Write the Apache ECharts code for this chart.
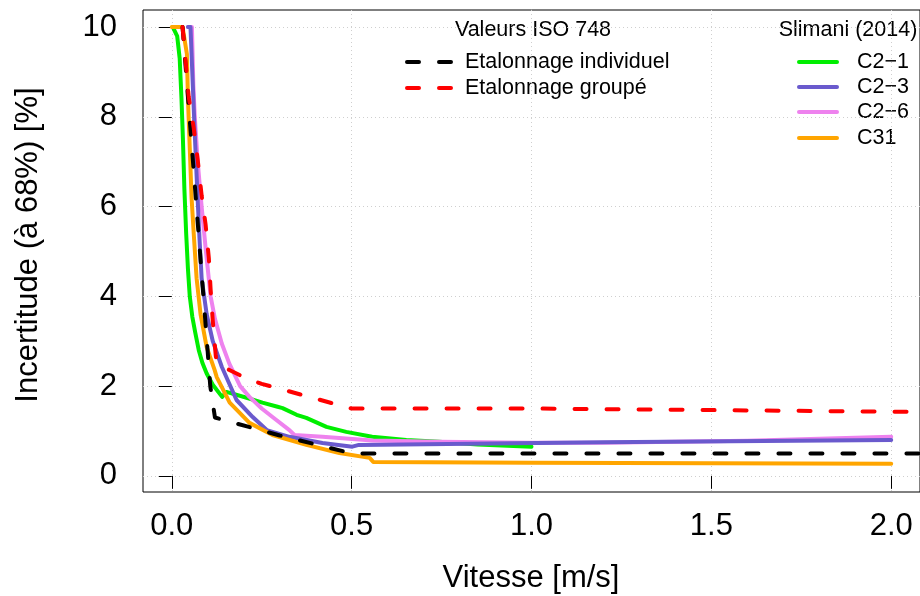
<!DOCTYPE html>
<html><head><meta charset="utf-8">
<script src="https://cdn.jsdelivr.net/npm/echarts@6/dist/echarts.min.js"></script>
<style>html,body{margin:0;padding:0;background:#fff}#c{width:920px;height:596px}</style>
</head><body><div id="c"></div>
<script>
// ---- data ----
const xTicks = [0, 0.5, 1, 1.5, 2];
const yTicks = [0, 2, 4, 6, 8, 10];
const isoIndividuel = [[0.03,10],[0.1,2.75],[0.107,2.0],[0.12,1.3],[0.3,0.9],[0.5,0.5],[2.2,0.5]];
const isoGroupe = [[0.03,10],[0.047,8.45],[0.061,7.75],[0.072,7.05],[0.083,6.25],[0.094,5.6],[0.103,4.85],[0.108,4.15],[0.114,3.45],[0.122,2.7],[0.125,2.5],[0.2,2.2],[0.25,2.05],[0.5,1.5],[1.0,1.5],[2.0,1.43],[2.2,1.42]];
const c21 = [[0.003,10],[0.015,9.8],[0.022,9.3],[0.027,8.4],[0.031,7.5],[0.035,6.4],[0.04,5.4],[0.045,4.6],[0.05,4.0],[0.057,3.55],[0.065,3.2],[0.075,2.8],[0.085,2.52],[0.097,2.28],[0.114,2.03],[0.14,1.76],[0.152,1.87],[0.208,1.74],[0.252,1.63],[0.294,1.54],[0.308,1.51],[0.347,1.36],[0.374,1.29],[0.43,1.09],[0.485,0.98],[0.557,0.87],[0.652,0.80],[0.743,0.76],[0.85,0.7],[1.0,0.65]];
const c23 = [[0.045,10],[0.052,10],[0.058,8.8],[0.064,7.6],[0.072,6.15],[0.077,5.3],[0.083,4.4],[0.097,3.6],[0.114,3.0],[0.139,2.43],[0.155,2.14],[0.18,1.69],[0.225,1.31],[0.264,1.02],[0.327,0.87],[0.419,0.73],[0.502,0.65],[0.52,0.69],[1.2,0.75],[2.0,0.80]];
const c26 = [[0.045,10],[0.056,10],[0.06,8.7],[0.064,8.0],[0.072,7.0],[0.083,6.0],[0.095,5.0],[0.108,4.0],[0.12,3.5],[0.139,2.95],[0.16,2.5],[0.19,2.0],[0.216,1.76],[0.25,1.5],[0.28,1.31],[0.327,1.02],[0.341,0.91],[0.419,0.87],[0.558,0.79],[0.743,0.76],[1.0,0.74],[1.2,0.74],[1.6,0.78],[2.0,0.87]];
const c31 = [[0,10],[0.03,10],[0.042,9.4],[0.045,8.4],[0.05,7.3],[0.055,6.2],[0.061,5.4],[0.069,4.4],[0.08,3.6],[0.097,2.87],[0.119,2.36],[0.125,2.2],[0.161,1.63],[0.216,1.18],[0.28,0.91],[0.374,0.69],[0.466,0.51],[0.55,0.4],[0.56,0.31],[1.0,0.29],[2.0,0.27]];
const isoNames = ['Etalonnage individuel', 'Etalonnage groupé'];
const slimaniNames = ['C2\u22121', 'C2\u22123', 'C2\u22126', 'C31'];

// ---- style ----
const FONT = '"Liberation Sans", Arial, Helvetica, sans-serif';
const COL = {black:'#000000', red:'#ff0000', green:'#00ee00', purple:'#6a5acd', pink:'#ee82ee', orange:'#ffa500'};
const DASH = [12, 20];

const chart = echarts.init(document.getElementById('c'), null, {renderer:'canvas'});

function solid(name, data, color) {
  return {name, type:'line', data, showSymbol:false, symbol:'none', animation:false,
    lineStyle:{color, width:4, cap:'round', join:'round'}, clip:true};
}
function dashed(name, data, color) {
  return {name, type:'line', data, showSymbol:false, symbol:'none', animation:false,
    lineStyle:{color, width:4, type:DASH, cap:'round', join:'round'}, clip:true};
}

const gridLine = {show:true, lineStyle:{color:'#cfcfcf', width:1, type:[1,3]}};

function legendItems() {
  const g = [];
  const txt = (x, y, text, align) => ({type:'text', x, y, silent:true,
    style:{text, fill:'#000', font:'21.5px ' + FONT, align:align||'left', verticalAlign:'middle'}});
  g.push(txt(533, 30, 'Valeurs ISO 748', 'center'));
  const isoCols = [COL.black, COL.red];
  [62, 88].forEach((y, i) => {
    g.push({type:'line', silent:true, shape:{x1:407, y1:y, x2:452, y2:y},
      style:{stroke:isoCols[i], lineWidth:4, lineDash:DASH, lineCap:'round'}});
    g.push(txt(465, y, isoNames[i]));
  });
  g.push(txt(848, 30, 'Slimani (2014)', 'center'));
  const sCols = [COL.green, COL.purple, COL.pink, COL.orange];
  [62, 87, 112, 138].forEach((y, i) => {
    g.push({type:'line', silent:true, shape:{x1:799, y1:y, x2:837, y2:y},
      style:{stroke:sCols[i], lineWidth:4, lineCap:'round'}});
    g.push(txt(857, y, slimaniNames[i]));
  });
  g.push({type:'text', x:531, y:578, silent:true,
    style:{text:'Vitesse [m/s]', fill:'#000', font:'31px ' + FONT, align:'center', verticalAlign:'middle'}});
  g.push({type:'text', x:28, y:245, rotation:Math.PI/2, silent:true,
    style:{text:'Incertitude (à 68%) [%]', fill:'#000', font:'31px ' + FONT, align:'center', verticalAlign:'middle'}});
  return g;
}

chart.setOption({
  animation:false,
  backgroundColor:'#ffffff',
  grid:{left:143, right:-2, top:10, bottom:104, show:true, borderColor:'#000', borderWidth:1, backgroundColor:'transparent'},
  xAxis:{type:'value', min:-0.08, max:2.08,
    axisLine:{show:false},
    axisTick:{show:true, inside:false, length:13, lineStyle:{color:'#000', width:1}, customValues:xTicks},
    axisLabel:{show:true, customValues:xTicks, margin:19, color:'#000', fontSize:31, fontFamily:FONT,
      formatter:v => v.toFixed(1)},
    splitLine:gridLine},
  yAxis:{type:'value', min:-0.36, max:10.38,
    axisLine:{show:false},
    axisTick:{show:true, inside:false, length:13, lineStyle:{color:'#000', width:1}, customValues:yTicks},
    axisLabel:{show:true, customValues:yTicks, margin:26, color:'#000', fontSize:31, fontFamily:FONT,
      formatter:v => String(Math.round(v))},
    splitLine:gridLine},
  series:[
    solid(slimaniNames[0], c21, COL.green),
    solid(slimaniNames[2], c26, COL.pink),
    solid(slimaniNames[1], c23, COL.purple),
    solid(slimaniNames[3], c31, COL.orange),
    dashed(isoNames[0], isoIndividuel, COL.black),
    dashed(isoNames[1], isoGroupe, COL.red)
  ],
  graphic:legendItems()
});
</script></body></html>
